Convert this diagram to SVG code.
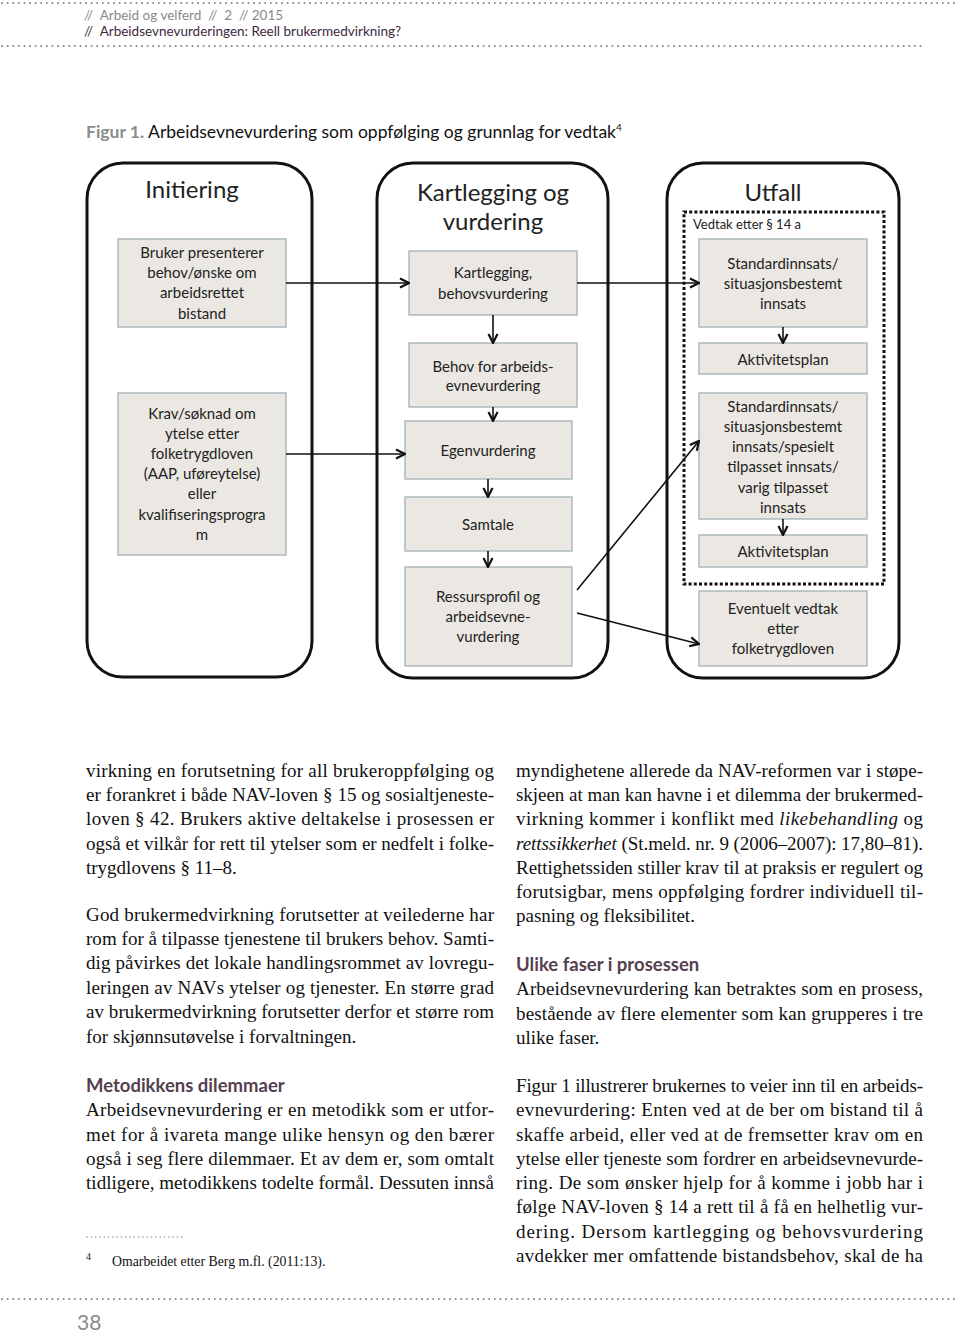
<svg xmlns="http://www.w3.org/2000/svg" width="960" height="1334" viewBox="0 0 960 1334">
<style>
.dot{stroke:#8a8a8a;stroke-width:2;stroke-dasharray:0.1 5.5;stroke-linecap:round;fill:none}
.col{fill:#fff;stroke:#111;stroke-width:3}
.box{fill:#ebe8e3;stroke:#a3b0b4;stroke-width:1.3}
.t{font-family:Lato,"Open Sans","Liberation Sans",sans-serif;font-size:15px;fill:#222;text-anchor:middle}
.h{font-family:Lato,"Open Sans","Liberation Sans",sans-serif;font-size:24px;fill:#222;text-anchor:middle}
.b{font-family:"Liberation Serif","Times New Roman",serif;font-size:19px;fill:#111}
.hd{font-family:Lato,"Open Sans","Liberation Sans",sans-serif;font-size:18.5px;font-weight:bold;fill:#54404f}
.con{stroke:#111;stroke-width:1.6;fill:none;marker-end:url(#arr)}
</style>
<defs>
<marker id="arr" viewBox="0 0 12 12" refX="11" refY="6" markerWidth="12" markerHeight="12" orient="auto" markerUnits="userSpaceOnUse">
<path d="M2,1.5 L11,6 L2,10.5" fill="none" stroke="#111" stroke-width="2.2"/>
</marker>
</defs>

<!-- header -->
<g id="header">
<line class="dot" x1="2" y1="3" x2="958" y2="3"/>
<text x="84" y="20" xml:space="preserve" style="font-family:Lato,'Open Sans',sans-serif;font-size:13.5px;fill:#8a8a8a">//  Arbeid og velferd  //  2  // 2015</text>
<text x="84" y="36" xml:space="preserve" style="font-family:Lato,'Open Sans',sans-serif;font-size:13.5px;fill:#3d2a40">//  Arbeidsevnevurderingen: Reell brukermedvirkning?</text>
<line class="dot" x1="2" y1="46" x2="925" y2="46"/>
<text x="86" y="138" style="font-family:Lato,'Open Sans',sans-serif;font-size:17.5px;fill:#111"><tspan style="fill:#8c8c8c;font-weight:bold">Figur 1.</tspan> Arbeidsevnevurdering som oppfølging og grunnlag for vedtak<tspan dy="-7" style="font-size:10px">4</tspan></text>
</g>

<!-- columns -->
<g id="col-initiering">
<rect class="col" x="87" y="163" width="225" height="514" rx="36"/>
<text class="h" x="192" y="198">Initiering</text>
</g>
<g id="col-kartlegging">
<rect class="col" x="377" y="163" width="231" height="515" rx="36"/>
<text class="h" x="493" y="201">Kartlegging og</text>
<text class="h" x="493" y="230">vurdering</text>
</g>
<g id="col-utfall">
<rect class="col" x="667" y="163" width="232" height="515" rx="36"/>
<text class="h" x="773" y="201">Utfall</text>
<rect x="684" y="212" width="200" height="372" fill="none" stroke="#111" stroke-width="3" stroke-dasharray="3 2.2"/>
<text x="693" y="229" style="font-family:Lato,'Open Sans',sans-serif;font-size:13px;fill:#222">Vedtak etter § 14 a</text>
</g>

<!-- nodes col 1 -->
<g id="n-bruker">
<rect class="box" x="118" y="239" width="168" height="88"/>
<text class="t" x="202" y="258">Bruker presenterer</text>
<text class="t" x="202" y="278">behov/ønske om</text>
<text class="t" x="202" y="298">arbeidsrettet</text>
<text class="t" x="202" y="319">bistand</text>
</g>
<g id="n-krav">
<rect class="box" x="118" y="393" width="168" height="162"/>
<text class="t" x="202" y="419">Krav/søknad om</text>
<text class="t" x="202" y="439">ytelse etter</text>
<text class="t" x="202" y="459">folketrygdloven</text>
<text class="t" x="202" y="479">(AAP, uføreytelse)</text>
<text class="t" x="202" y="499">eller</text>
<text class="t" x="202" y="520">kvalifiseringsprogra</text>
<text class="t" x="202" y="540">m</text>
</g>

<!-- nodes col 2 -->
<g id="n-kartlegging">
<rect class="box" x="409" y="251" width="168" height="64"/>
<text class="t" x="493" y="278">Kartlegging,</text>
<text class="t" x="493" y="299">behovsvurdering</text>
</g>
<g id="n-behov">
<rect class="box" x="409" y="343" width="168" height="64"/>
<text class="t" x="493" y="372">Behov for arbeids-</text>
<text class="t" x="493" y="391">evnevurdering</text>
</g>
<g id="n-egen">
<rect class="box" x="405" y="421" width="167" height="58"/>
<text class="t" x="488" y="456">Egenvurdering</text>
</g>
<g id="n-samtale">
<rect class="box" x="405" y="497" width="167" height="54"/>
<text class="t" x="488" y="530">Samtale</text>
</g>
<g id="n-ressurs">
<rect class="box" x="405" y="567" width="167" height="99"/>
<text class="t" x="488" y="602">Ressursprofil og</text>
<text class="t" x="488" y="622">arbeidsevne-</text>
<text class="t" x="488" y="642">vurdering</text>
</g>

<!-- nodes col 3 -->
<g id="n-standard1">
<rect class="box" x="699" y="239" width="168" height="88"/>
<text class="t" x="783" y="269">Standardinnsats/</text>
<text class="t" x="783" y="289">situasjonsbestemt</text>
<text class="t" x="783" y="309">innsats</text>
</g>
<g id="n-aktiv1">
<rect class="box" x="699" y="343" width="168" height="31"/>
<text class="t" x="783" y="365">Aktivitetsplan</text>
</g>
<g id="n-standard2">
<rect class="box" x="699" y="393" width="168" height="126"/>
<text class="t" x="783" y="412">Standardinnsats/</text>
<text class="t" x="783" y="432">situasjonsbestemt</text>
<text class="t" x="783" y="452">innsats/spesielt</text>
<text class="t" x="783" y="472">tilpasset innsats/</text>
<text class="t" x="783" y="493">varig tilpasset</text>
<text class="t" x="783" y="513">innsats</text>
</g>
<g id="n-aktiv2">
<rect class="box" x="699" y="535" width="168" height="32"/>
<text class="t" x="783" y="557">Aktivitetsplan</text>
</g>
<g id="n-eventuelt">
<rect class="box" x="699" y="591" width="168" height="75"/>
<text class="t" x="783" y="614">Eventuelt vedtak</text>
<text class="t" x="783" y="634">etter</text>
<text class="t" x="783" y="654">folketrygdloven</text>
</g>

<!-- connectors -->
<g id="connectors">
<path class="con" d="M286,283 H409"/>
<path class="con" d="M286,454 H405"/>
<path class="con" d="M577,283 H699"/>
<path class="con" d="M577,590 L699,441"/>
<path class="con" d="M577,613 L699,644"/>
<path class="con" d="M493,315 V343"/>
<path class="con" d="M493,407 V421"/>
<path class="con" d="M488,479 V497"/>
<path class="con" d="M488,551 V567"/>
<path class="con" d="M783,327 V343"/>
<path class="con" d="M783,519 V535"/>
</g>

<!-- body text left -->
<g id="text-left">
<text class="b" x="86" y="777" textLength="408" lengthAdjust="spacing">virkning en forutsetning for all brukeroppfølging og</text>
<text class="b" x="86" y="801" textLength="408" lengthAdjust="spacing">er forankret i både NAV-loven § 15 og sosialtjeneste-</text>
<text class="b" x="86" y="825" textLength="408" lengthAdjust="spacing">loven § 42. Brukers aktive deltakelse i prosessen er</text>
<text class="b" x="86" y="850" textLength="408" lengthAdjust="spacing">også et vilkår for rett til ytelser som er nedfelt i folke-</text>
<text class="b" x="86" y="874">trygdlovens § 11–8.</text>
<text class="b" x="86" y="921" textLength="408" lengthAdjust="spacing">God brukermedvirkning forutsetter at veilederne har</text>
<text class="b" x="86" y="945" textLength="408" lengthAdjust="spacing">rom for å tilpasse tjenestene til brukers behov. Samti-</text>
<text class="b" x="86" y="969" textLength="408" lengthAdjust="spacing">dig påvirkes det lokale handlingsrommet av lovregu-</text>
<text class="b" x="86" y="994" textLength="408" lengthAdjust="spacing">leringen av NAVs ytelser og tjenester. En større grad</text>
<text class="b" x="86" y="1018" textLength="408" lengthAdjust="spacing">av brukermedvirkning forutsetter derfor et større rom</text>
<text class="b" x="86" y="1043">for skjønnsutøvelse i forvaltningen.</text>
<text class="hd" x="86" y="1092">Metodikkens dilemmaer</text>
<text class="b" x="86" y="1116" textLength="408" lengthAdjust="spacing">Arbeidsevnevurdering er en metodikk som er utfor-</text>
<text class="b" x="86" y="1141" textLength="408" lengthAdjust="spacing">met for å ivareta mange ulike hensyn og den bærer</text>
<text class="b" x="86" y="1165" textLength="408" lengthAdjust="spacing">også i seg flere dilemmaer. Et av dem er, som omtalt</text>
<text class="b" x="86" y="1189" textLength="408" lengthAdjust="spacing">tidligere, metodikkens todelte formål. Dessuten innså</text>
</g>

<!-- body text right -->
<g id="text-right">
<text class="b" x="516" y="777" textLength="407" lengthAdjust="spacing">myndighetene allerede da NAV-reformen var i støpe-</text>
<text class="b" x="516" y="801" textLength="407" lengthAdjust="spacing">skjeen at man kan havne i et dilemma der brukermed-</text>
<text class="b" x="516" y="825" textLength="407" lengthAdjust="spacing">virkning kommer i konflikt med <tspan font-style="italic">likebehandling</tspan> og</text>
<text class="b" x="516" y="850" textLength="407" lengthAdjust="spacing"><tspan font-style="italic">rettssikkerhet</tspan> (St.meld. nr. 9 (2006–2007): 17,80–81).</text>
<text class="b" x="516" y="874" textLength="407" lengthAdjust="spacing">Rettighetssiden stiller krav til at praksis er regulert og</text>
<text class="b" x="516" y="898" textLength="407" lengthAdjust="spacing">forutsigbar, mens oppfølging fordrer individuell til-</text>
<text class="b" x="516" y="922">pasning og fleksibilitet.</text>
<text class="hd" x="516" y="971">Ulike faser i prosessen</text>
<text class="b" x="516" y="995" textLength="407" lengthAdjust="spacing">Arbeidsevnevurdering kan betraktes som en prosess,</text>
<text class="b" x="516" y="1020" textLength="407" lengthAdjust="spacing">bestående av flere elementer som kan grupperes i tre</text>
<text class="b" x="516" y="1044">ulike faser.</text>
<text class="b" x="516" y="1092" textLength="407" lengthAdjust="spacing">Figur 1 illustrerer brukernes to veier inn til en arbeids-</text>
<text class="b" x="516" y="1116" textLength="407" lengthAdjust="spacing">evnevurdering: Enten ved at de ber om bistand til å</text>
<text class="b" x="516" y="1141" textLength="407" lengthAdjust="spacing">skaffe arbeid, eller ved at de fremsetter krav om en</text>
<text class="b" x="516" y="1165" textLength="407" lengthAdjust="spacing">ytelse eller tjeneste som fordrer en arbeidsevnevurde-</text>
<text class="b" x="516" y="1189" textLength="407" lengthAdjust="spacing">ring. De som ønsker hjelp for å komme i jobb har i</text>
<text class="b" x="516" y="1213" textLength="407" lengthAdjust="spacing">følge NAV-loven § 14 a rett til å få en helhetlig vur-</text>
<text class="b" x="516" y="1238" textLength="407" lengthAdjust="spacing">dering. Dersom kartlegging og behovsvurdering</text>
<text class="b" x="516" y="1262" textLength="407" lengthAdjust="spacing">avdekker mer omfattende bistandsbehov, skal de ha</text>
</g>

<!-- footer -->
<g id="footer">
<line x1="87" y1="1237" x2="185" y2="1237" stroke="#999" stroke-width="1.5" stroke-dasharray="0.1 4.2" stroke-linecap="round"/>
<text x="86" y="1260" style="font-family:'Liberation Serif',serif;font-size:10px;fill:#111">4</text>
<text x="112" y="1266" style="font-family:'Liberation Serif',serif;font-size:13.8px;fill:#111">Omarbeidet etter Berg m.fl. (2011:13).</text>
<line class="dot" x1="2" y1="1299" x2="958" y2="1299"/>
<text x="77" y="1330" style="font-family:Lato,'Open Sans',sans-serif;font-size:21px;fill:#8a8a8a">38</text>
</g>
</svg>
